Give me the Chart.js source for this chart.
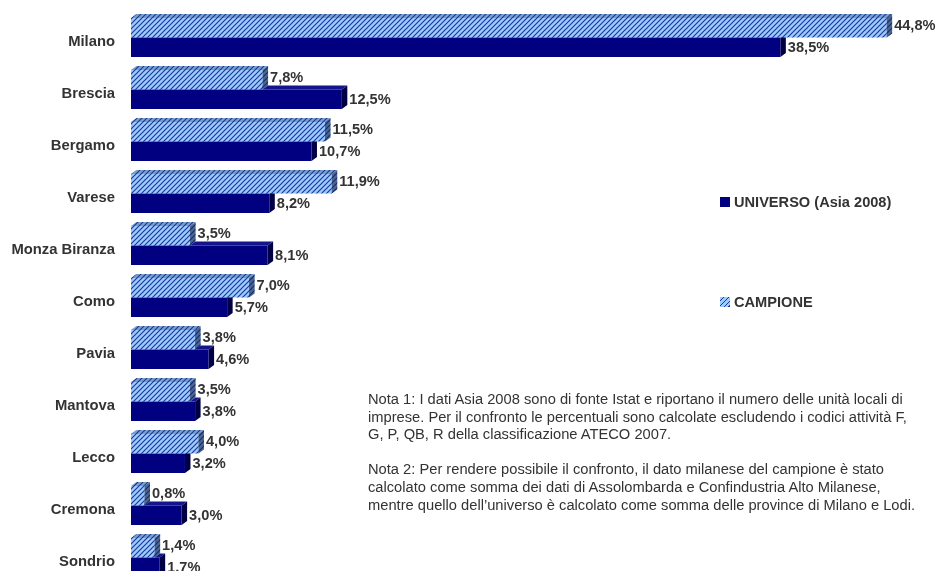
<!DOCTYPE html>
<html>
<head>
<meta charset="utf-8">
<script src="https://cdn.jsdelivr.net/npm/chart.js@4.4.0/dist/chart.umd.min.js"></script>
<style>
  html, body { margin: 0; padding: 0; background: #fff; overflow: hidden; }
  #wrap { position: relative; width: 938px; height: 600px; }
  #wrap canvas { position: absolute; left: 0; top: 0; }
  .legend { position: absolute; left: 720px; height: 17px; display: flex; align-items: center;
            font: bold 14.6px "Liberation Sans", Arial, sans-serif; color: #333; white-space: nowrap; }
  .sw { width: 10px; height: 10px; margin-right: 4px; flex: none; }
  .sw.solid { background: #000080; }
  .sw.hatch { background: repeating-linear-gradient(135deg, #99CCFF 0 2.2px, #24349a 2.2px 3.5px); }
  .notes { position: absolute; left: 368px; top: 391px; font: 14.7px "Liberation Sans", Arial, sans-serif;
           color: #333; line-height: 17.6px; white-space: pre; }
</style>
</head>
<body>
<div id="wrap">
  <canvas id="c" width="938" height="600"></canvas>
  <div class="legend" style="top:193px"><span class="sw solid"></span>UNIVERSO (Asia 2008)</div>
  <div class="legend" style="top:293px"><span class="sw hatch"></span>CAMPIONE</div>
  <div class="notes">Nota 1: I dati Asia 2008 sono di fonte Istat e riportano il numero delle unità locali di
imprese. Per il confronto le percentuali sono calcolate escludendo i codici attività F,
G, P, QB, R della classificazione ATECO 2007.

Nota 2: Per rendere possibile il confronto, il dato milanese del campione è stato
calcolato come somma dei dati di Assolombarda e Confindustria Alto Milanese,
mentre quello dell’universo è calcolato come somma delle province di Milano e Lodi.</div>
</div>
<script>
// Share of local units by province (%)
const provinces = ['Milano', 'Brescia', 'Bergamo', 'Varese', 'Monza Biranza', 'Como',
                   'Pavia', 'Mantova', 'Lecco', 'Cremona', 'Sondrio'];
const campione = [44.8, 7.8, 11.5, 11.9, 3.5, 7.0, 3.8, 3.5, 4.0, 0.8, 1.4];
const universo = [38.5, 12.5, 10.7, 8.2, 8.1, 5.7, 4.6, 3.8, 3.2, 3.0, 1.7];

const canvas = document.getElementById('c');
const ctx = canvas.getContext('2d');

// diagonal hatch used for the CAMPIONE bars
function makeHatch() {
  const t = document.createElement('canvas');
  t.width = 5; t.height = 5;
  const g = t.getContext('2d');
  g.fillStyle = '#99CCFF';
  g.fillRect(0, 0, 5, 5);
  g.strokeStyle = '#24349a';
  g.lineWidth = 1.15;
  g.beginPath();
  g.moveTo(-1, 6); g.lineTo(6, -1);
  g.moveTo(-1, 1); g.lineTo(1, -1);
  g.moveTo(4, 6); g.lineTo(6, 4);
  g.stroke();
  return ctx.createPattern(t, 'repeat');
}
const hatch = makeHatch();

// depth of the extruded bars
const DX = 5.5, DY = 4;
const LABEL_FONT = 'bold 14.6px "Liberation Sans", Arial, sans-serif';

function poly(c, pts, fills) {
  c.beginPath();
  c.moveTo(pts[0][0], pts[0][1]);
  for (let i = 1; i < pts.length; i++) c.lineTo(pts[i][0], pts[i][1]);
  c.closePath();
  fills.forEach(f => { c.fillStyle = f; c.fill(); });
}

function drawFaces(c, elements, topFills, sideFills) {
  elements.forEach(el => {
    const { x, y, base, height } = el.getProps(['x', 'y', 'base', 'height'], true);
    const t = y - height / 2, b = y + height / 2;
    poly(c, [[base, t], [x, t], [x + DX, t - DY], [base + DX, t - DY]], topFills);
    poly(c, [[x, t], [x + DX, t - DY], [x + DX, b - DY], [x, b]], sideFills);
  });
}

function fmt(v) { return v.toFixed(1).replace('.', ',') + '%'; }

const bar3d = {
  id: 'bar3d',
  beforeDatasetsDraw(chart) {
    const c = chart.ctx;
    c.save();
    drawFaces(c, chart.getDatasetMeta(1).data, ['#14148c'], ['#000045']);
    c.restore();
  },
  afterDatasetsDraw(chart) {
    const c = chart.ctx;
    c.save();
    drawFaces(c, chart.getDatasetMeta(0).data,
      [hatch, 'rgba(40,60,100,0.3)'], [hatch, 'rgba(20,35,70,0.6)']);
    c.font = LABEL_FONT;
    c.fillStyle = '#333';
    c.textAlign = 'left';
    c.textBaseline = 'middle';
    [[0, campione, -2], [1, universo, 1]].forEach(([di, vals, dy]) => {
      chart.getDatasetMeta(di).data.forEach((el, i) => {
        const { x, y } = el.getProps(['x', 'y'], true);
        c.fillText(fmt(vals[i]), x + DX + 2, y + dy);
      });
    });
    c.restore();
  }
};

new Chart(ctx, {
  type: 'bar',
  data: {
    labels: provinces,
    datasets: [
      { label: 'CAMPIONE', data: campione, backgroundColor: hatch, borderWidth: 0 },
      { label: 'UNIVERSO (Asia 2008)', data: universo, backgroundColor: '#000080', borderWidth: 0 }
    ]
  },
  options: {
    indexAxis: 'y',
    responsive: false,
    animation: false,
    events: [],
    datasets: { bar: { categoryPercentage: 0.75, barPercentage: 1 } },
    layout: { padding: { left: 0, right: 48, top: 11.5, bottom: 16.5 } },
    plugins: { legend: { display: false }, tooltip: { enabled: false } },
    scales: {
      x: { display: false, min: 0, max: 45 },
      y: {
        // tick marks are hidden; their length only sets the gap before the labels
        grid: { display: false, drawTicks: true, tickLength: 16 },
        border: { display: false },
        afterFit(scale) { scale.width = 131; },
        ticks: {
          padding: 0,
          labelOffset: 4,
          color: '#333',
          font: { family: '"Liberation Sans", Arial, sans-serif', size: 14.8, weight: 'bold' }
        }
      }
    }
  },
  plugins: [bar3d]
});
</script>
</body>
</html>
